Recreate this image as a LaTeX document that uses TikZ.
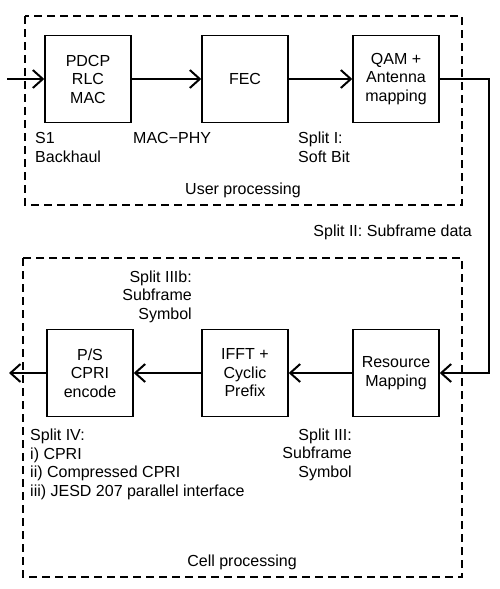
\documentclass[tikz,border=0pt]{standalone}
\usepackage{fontspec}
\setmainfont{Liberation Sans}
\usetikzlibrary{arrows.meta}
\begin{document}
\begin{tikzpicture}[x=1pt,y=-1pt]
\tikzstyle{every node}+=[inner sep=0pt, font=\fontsize{16}{18.5}\selectfont]
\tikzstyle{block}=[draw=black, line width=1.4pt, minimum width=86pt, minimum height=87pt, align=center]
\tikzstyle{link}=[black, line width=2pt, -{Straight Barb[length=10pt,width=18pt]}]
\tikzstyle{group}=[black, line width=1.8pt, dash pattern=on 8pt off 5pt]
\useasboundingbox (0,0) rectangle (500,589);
\draw [group] (25,16) rectangle (462,205);
\draw [group] (23,258) rectangle (462,577);
\node [block] (pdcp) at (88,79) {PDCP\\RLC\\MAC};
\node [block] (fec) at (245,79) {FEC};
\node [block] (qam) at (396,79) {QAM +\\Antenna\\mapping};
\node [block] (ps) at (90,373) {P/S\\CPRI\\encode};
\node [block] (ifft) at (245,373) {IFFT +\\Cyclic\\Prefix};
\node [block] (res) at (396,373) {Resource\\Mapping};
\node [anchor=base west, align=left] (s1) at (35,162) {S1\\Backhaul};
\node [anchor=base west] (macphy) at (133,143.5) {MAC−PHY};
\node [anchor=base west, align=left] (split1) at (298,162) {Split I:\\Soft Bit};
\node [anchor=base] (user) at (243,194) {User processing};
\node [anchor=base east] (split2) at (472,236) {Split II: Subframe data};
\node [anchor=base east, align=right] (split3b) at (192,319) {Split IIIb:\\Subframe\\Symbol};
\node [anchor=base west, align=left] (split4) at (30,496) {Split IV:\\i) CPRI\\ii) Compressed CPRI\\iii) JESD 207 parallel interface};
\node [anchor=base east, align=right] (split3) at (352,477) {Split III:\\Subframe\\Symbol};
\node [anchor=base] (cell) at (242,566) {Cell processing};
\coordinate (in) at (7,79);
\coordinate (bend) at (489,79);
\coordinate (out) at (9,373);
\draw [link] (in) -- (pdcp);
\draw [link] (pdcp) -- (fec);
\draw [link] (fec) -- (qam);
\draw [link] (qam.east) -- (bend) |- (res.east);
\draw [link] (res) -- (ifft);
\draw [link] (ifft) -- (ps);
\draw [link] (ps) -- (out);
\end{tikzpicture}
\end{document}
